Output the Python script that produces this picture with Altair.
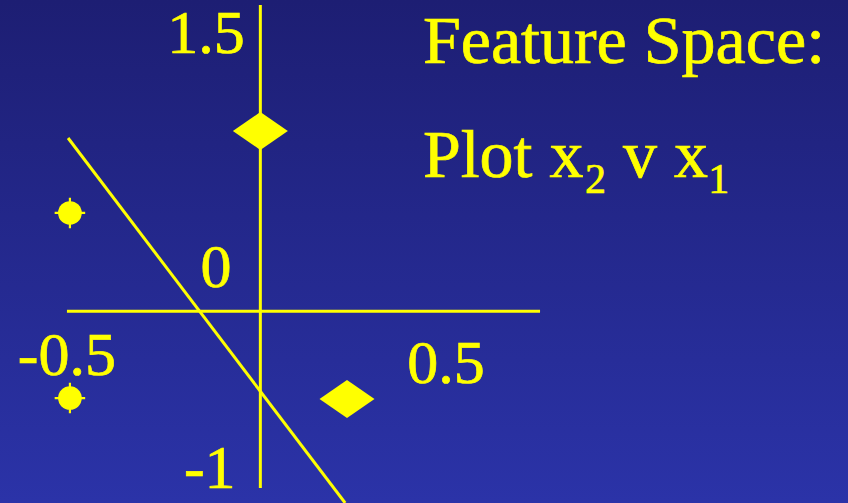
import altair as alt
import pandas as pd

# Feature-space points (x1, x2): diamonds are one class, circles the other
diamond_x1 = [0.0, 0.233]
diamond_x2 = [0.950, -0.462]
circle_x1 = [-0.512, -0.512]
circle_x2 = [0.518, -0.457]

# Separating line through the feature plane
boundary_x1 = [-0.517, 0.228]
boundary_x2 = [0.913, -1.010]

# Extents of the two drawn axes
h_axis_x1 = [-0.520, 0.752]
v_axis_x2 = [1.614, -0.931]

# Hand-placed tick labels
tick_text = ["1.5", "0", "-0.5", "0.5", "-1"]
tick_x1 = [-0.146, -0.119, -0.520, 0.499, -0.136]
tick_x2 = [1.361, 0.128, -0.336, -0.378, -0.931]

YELLOW = "#ffff00"
FONT = "Liberation Serif"
W, H = 848, 503

xs = alt.Scale(domain=[-0.7, 1.58], nice=False, zero=False)
ys = alt.Scale(domain=[-1.01, 1.64], nice=False, zero=False)


def X(field="x1"):
    return alt.X(f"{field}:Q", scale=xs, axis=None)


def Y(field="x2"):
    return alt.Y(f"{field}:Q", scale=ys, axis=None)


# Slide background: dark navy fading to brighter blue
background = alt.Chart(pd.DataFrame({"k": [0]})).mark_rect(
    color=alt.LinearGradient(
        gradient="linear",
        stops=[
            alt.GradientStop(color="#1d1e73", offset=0),
            alt.GradientStop(color="#2b33a8", offset=1),
        ],
        x1=0, x2=0, y1=0, y2=1,
    )
).encode(x=alt.value(0), x2=alt.value(W), y=alt.value(0), y2=alt.value(H))

axes_df = pd.DataFrame({
    "x1": [h_axis_x1[0], 0.0],
    "x1b": [h_axis_x1[1], 0.0],
    "x2": [0.0, v_axis_x2[0]],
    "x2b": [0.0, v_axis_x2[1]],
})
axes = alt.Chart(axes_df).mark_rule(color=YELLOW, strokeWidth=3).encode(
    x=X(), x2="x1b:Q", y=Y(), y2="x2b:Q"
)

boundary_df = pd.DataFrame({
    "x1": [boundary_x1[0]], "x1b": [boundary_x1[1]],
    "x2": [boundary_x2[0]], "x2b": [boundary_x2[1]],
})
boundary = alt.Chart(boundary_df).mark_rule(color=YELLOW, strokeWidth=3).encode(
    x=X(), x2="x1b:Q", y=Y(), y2="x2b:Q"
)

diamonds = alt.Chart(pd.DataFrame({"x1": diamond_x1, "x2": diamond_x2})).mark_point(
    shape="M-1,0L0,-0.69L1,0L0,0.69Z",
    filled=True, color=YELLOW, opacity=1, size=3025,
).encode(x=X(), y=Y())

circle_df = pd.DataFrame({"x1": circle_x1, "x2": circle_x2})
circles = alt.Chart(circle_df).mark_point(
    shape="circle", filled=True, color=YELLOW, opacity=1, size=560,
).encode(x=X(), y=Y())
circle_ticks = alt.Chart(circle_df).mark_point(
    shape="M-1,0L1,0M0,-1L0,1", filled=False, color=YELLOW,
    opacity=1, strokeWidth=2.2, size=930,
).encode(x=X(), y=Y())

text_style = dict(font=FONT, color=YELLOW, stroke=YELLOW, strokeWidth=0.7,
                  baseline="alphabetic")

ticks = alt.Chart(pd.DataFrame({"x1": tick_x1, "x2": tick_x2, "t": tick_text})).mark_text(
    fontSize=62, align="center", **text_style
).encode(x=X(), y=Y(), text="t:N")

# Slide heading text, with subscripts drawn as smaller, lowered pieces
heading_df = pd.DataFrame({
    "x1": [0.437, 0.437, 0.975],
    "x2": [1.308, 0.708, 0.708],
    "t": ["Feature Space:", "Plot x", "v x"],
})
heading = alt.Chart(heading_df).mark_text(
    fontSize=68, align="left", **text_style
).encode(x=X(), y=Y(), text="t:N")

sub_df = pd.DataFrame({"x1": [0.873, 1.204], "x2": [0.623, 0.623], "t": ["2", "1"]})
subs = alt.Chart(sub_df).mark_text(
    fontSize=42, align="left", **text_style
).encode(x=X(), y=Y(), text="t:N")

chart = alt.layer(
    background, axes, boundary, diamonds, circles, circle_ticks, ticks, heading, subs
).properties(
    width=W, height=H, padding=0, autosize="none"
).configure_view(strokeWidth=0).configure(background="#1d1e73")

chart.save("out.html", embed_options={"renderer": "svg", "actions": False})
